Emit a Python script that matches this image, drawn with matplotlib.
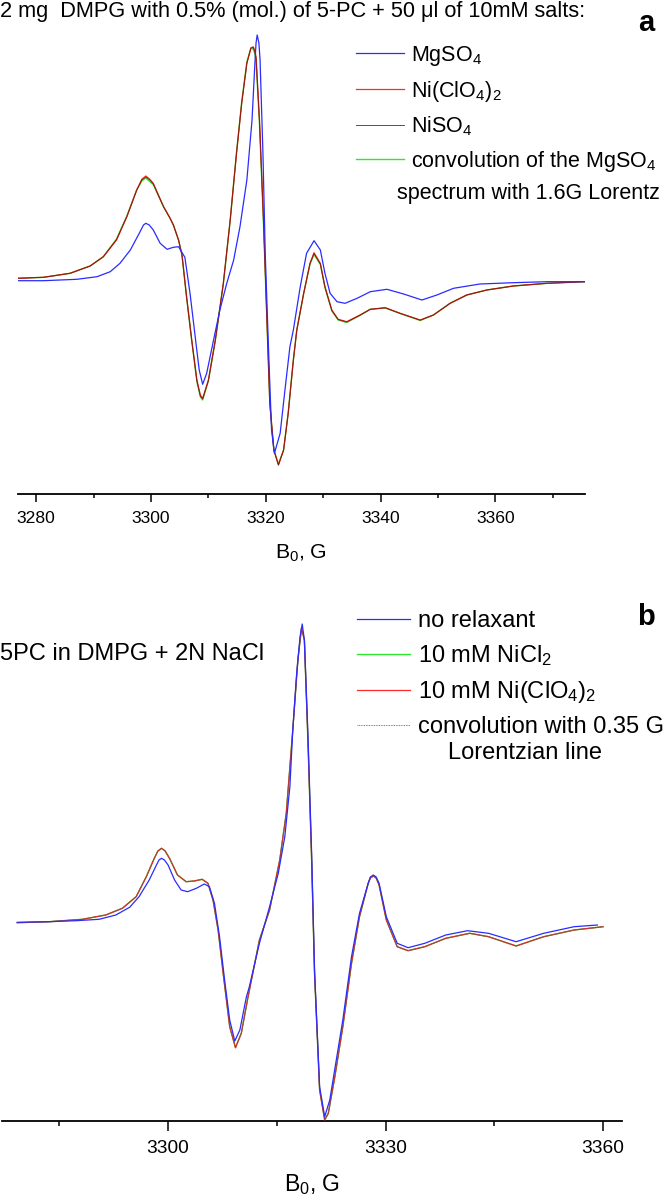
"""
EPR spectra of 5-PC in DMPG: effect of Ni2+ relaxants
"""
import numpy as np
import matplotlib
matplotlib.use("Agg")
import matplotlib.pyplot as plt
from matplotlib import rcParams
from matplotlib.ticker import MultipleLocator

rcParams["font.family"] = "Liberation Sans"
rcParams["mathtext.fontset"] = "custom"
rcParams["mathtext.rm"] = "Liberation Sans"
rcParams["mathtext.default"] = "regular"

# ---- panel a: field (G) and signal (arb. units) ----
field_mg = [3276.7, 3281.3, 3287.1, 3290.6, 3292.9, 3294.6, 3296.4, 3297.8, 3298.7, 3299.1,
            3299.7, 3300.4, 3301.6, 3302.8, 3303.9, 3304.8, 3305.9, 3306.8, 3307.7, 3308.4,
            3309.0, 3309.7, 3310.9, 3312.0, 3313.2, 3314.4, 3315.5, 3316.7, 3317.6, 3318.1,
            3318.3, 3318.5, 3318.8, 3319.0, 3319.5, 3319.9, 3320.5, 3321.0, 3321.5, 3322.5,
            3323.4, 3324.2, 3324.8, 3326.0, 3327.1, 3328.4, 3329.5, 3330.3, 3331.2, 3332.4,
            3333.8, 3335.9, 3338.2, 3341.1, 3344.0, 3347.2, 3349.8, 3352.7, 3357.3, 3363.1,
            3369.0, 3375.5]
mgso4 = [-0.7, -0.7, 0.7, 3.3, 8.3, 16.7, 30, 45, 55, 56.7,
         55, 50, 36.7, 30.7, 32.7, 33.3, 22.7, -13.3, -56.7, -90,
         -104.3, -93.3, -60, -30, -3.3, 20, 53.3, 100, 160, 216.7,
         237, 245, 237, 220, 126.7, 26.7, -73.3, -150, -173.3, -153.3,
         -106.7, -66.7, -50, -6.7, 26.7, 39.3, 30, 6.7, -13.3, -21.7,
         -23.3, -18.3, -11.7, -9.3, -14, -20, -15, -8.3, -4, -2.7,
         -1.7, -1.7]

field_ni = [3276.7, 3281.3, 3285.9, 3289.4, 3291.7, 3294.0, 3295.8, 3297.5, 3298.4, 3299.1,
            3299.8, 3300.4, 3302.2, 3303.3, 3303.9, 3304.8, 3305.4, 3306.2, 3307.1, 3308.0,
            3308.6, 3309.0, 3310.0, 3311.2, 3312.6, 3313.8, 3314.9, 3315.8, 3316.7, 3317.4,
            3317.8, 3318.05, 3318.3, 3318.9, 3319.6, 3320.2, 3320.7, 3321.4, 3322.2, 3323.1,
            3323.9, 3324.8, 3325.4, 3326.6, 3327.7, 3328.4, 3329.5, 3330.3, 3331.5, 3332.6,
            3334.1, 3336.4, 3338.2, 3340.8, 3343.4, 3346.9, 3349.2, 3352.1, 3355.0, 3358.5,
            3363.1, 3369.0, 3375.5]
ni_clo4 = [1.7, 2.7, 6.7, 14, 23.3, 40, 63.3, 90, 100.7, 104,
           100.7, 96.7, 73.3, 62, 55, 40, 25, -16.7, -60, -100,
           -115, -118.3, -100, -60, -3.3, 60, 126.7, 176.7, 216.7, 231.7,
           233.3, 230, 223.3, 160, 60, -40, -123.3, -170, -185, -170,
           -133.3, -80, -50, -13.3, 16.7, 27.3, 16.7, -6.7, -30, -39.3,
           -41.7, -35, -29.3, -27.7, -33.3, -40, -35, -23.3, -15, -10,
           -6, -3.3, -1.7]
niso4 = [1.7, 2.7, 6.7, 14, 23.3, 40.5, 63.5, 89.5, 100, 103,
         100, 96, 73, 62, 55, 40, 25, -17, -60.5, -101,
         -116, -119, -100.5, -60.5, -3.5, 60, 127, 177, 217, 232,
         232.5, 229, 222, 158, 58, -41, -123.5, -170, -185, -170,
         -133.3, -80, -50, -13.3, 16.5, 26.5, 16, -7, -30.5, -39.5,
         -42, -35.2, -29.3, -27.8, -33.4, -40.2, -35, -23.3, -15, -10,
         -6, -3.3, -1.7]
conv_mg = [1.7, 2.7, 6.7, 14, 23.3, 41, 64, 90, 99, 102,
           98.5, 95.5, 73, 62, 55, 40, 25, -17.5, -61, -102,
           -117, -120, -101, -61, -4, 60, 128, 178, 218, 232,
           231, 227, 220, 156, 56, -42, -124, -170, -184, -170,
           -133, -80, -50, -13.3, 16, 25.5, 15.5, -7.5, -31, -40,
           -42.5, -35.5, -29.3, -28, -33.5, -40.5, -35, -23.3, -15, -10,
           -6, -3.3, -1.7]

# ---- panel b ----
field_norel = [3279.2, 3283.6, 3287.3, 3290.5, 3292.8, 3294.7, 3296.0, 3297.4, 3298.4, 3298.75,
               3299.1, 3299.5, 3300.0, 3300.9, 3301.8, 3302.7, 3303.9, 3305.0, 3305.7, 3306.4,
               3307.1, 3307.8, 3308.5, 3309.2, 3309.9, 3310.8, 3311.2, 3312.6, 3314.0, 3315.2,
               3316.1, 3316.8, 3317.2, 3317.7, 3318.2, 3318.5, 3318.8, 3319.3, 3319.8, 3320.2,
               3320.9, 3321.6, 3322.3, 3323.2, 3324.1, 3325.3, 3326.4, 3327.6, 3327.9, 3328.3,
               3328.7, 3329.1, 3330.1, 3331.6, 3333.1, 3335.4, 3338.3, 3341.3, 3344.2, 3348.0,
               3351.8, 3356.0, 3359.2]
no_relax = [-0.3, 0.3, 1.3, 2.7, 7, 14.7, 25.3, 42, 57, 62,
            63.7, 62, 57, 42, 32, 30.3, 33.7, 38, 35.3, 18.7,
            -14.7, -58, -98, -119, -108, -75, -65, -21.3, 15.3, 48.7,
            85.3, 135.3, 192, 245.3, 285.3, 298, 282, 185.3, 68.7, -48,
            -164.7, -194.7, -178, -138, -98, -34.7, 8.7, 38.7, 45, 47,
            45, 38.7, 5.3, -21.3, -25.7, -21.3, -13, -8.7, -11.3, -19.7,
            -11.3, -4.7, -3]

field_nib = [3279.2, 3283.6, 3288.2, 3291.4, 3293.7, 3295.6, 3297.0, 3298.1, 3298.6, 3299.1,
             3299.6, 3300.2, 3301.3, 3302.5, 3303.6, 3304.7, 3305.5, 3306.2, 3306.9, 3307.6,
             3308.5, 3309.3, 3310.1, 3311.0, 3312.6, 3314.0, 3315.4, 3316.3, 3317.2, 3317.9,
             3318.4, 3318.8, 3319.3, 3319.8, 3320.2, 3320.9, 3321.6, 3322.1, 3323.0, 3324.1,
             3325.3, 3326.4, 3327.6, 3327.9, 3328.3, 3328.7, 3329.1, 3330.1, 3331.6, 3333.1,
             3335.4, 3338.3, 3341.6, 3344.2, 3348.0, 3351.8, 3356.0, 3360.0]
ni_clo4_b = [-0.7, 0.3, 2.7, 7, 13.7, 25.3, 45.3, 63.7, 71, 73.7,
             71, 63.7, 47, 40.3, 41, 42.7, 38.7, 22, -8, -51.3,
             -104.7, -125.7, -111.3, -76, -18, 12, 62, 108.7, 192, 262,
             293.7, 282, 178.7, 62, -51.3, -168, -198, -191.3, -154.7, -104.7,
             -41.3, 5.3, 38.7, 44, 46, 44, 37, 2, -24.7, -28.7,
             -24.7, -16.3, -11.3, -14.7, -24, -14.7, -8, -4.7]
# NiCl2 and the 0.35 G convolution lie on top of the Ni(ClO4)2 trace
nicl2_b = list(ni_clo4_b)
conv_b = list(ni_clo4_b)

W, H = 666, 1204
fig = plt.figure(figsize=(W / 100, H / 100), dpi=100)


def axes_px(left, right, top, bottom):
    return fig.add_axes([left / W, 1 - bottom / H, (right - left) / W, (bottom - top) / H])


def style_axis(ax, major, minor, tl, fs):
    for s in ["left", "top", "right"]:
        ax.spines[s].set_visible(False)
    ax.spines["bottom"].set_linewidth(1.3)
    ax.set_yticks([])
    ax.xaxis.set_major_locator(MultipleLocator(major))
    ax.xaxis.set_minor_locator(MultipleLocator(minor))
    ax.tick_params(axis="x", which="major", direction="out", length=tl, width=1.1,
                   pad=6.5, labelsize=fs)
    ax.tick_params(axis="x", which="minor", direction="out", length=tl / 2, width=1.1)
    ax.patch.set_alpha(0)


blue, red, brown, green = "#2b2bff", "#ff2a2a", "#7a1a10", "#2ee82e"

# panel a
ax = axes_px(17.8, 585, 30, 494)
ax.plot(field_mg, mgso4, color=blue, lw=0.9, label="MgSO$_4$", zorder=4)
ax.plot(field_ni, conv_mg, color=green, lw=1.0, zorder=2)
ax.plot(field_ni, ni_clo4, color=red, lw=0.9, label="Ni(ClO$_4$)$_2$", zorder=3)
ax.plot(field_ni, niso4, color=brown, lw=0.6, label="NiSO$_4$", zorder=3.5)
ax.plot([], [], color=green, lw=1.0, label="convolution of the MgSO$_4$")
ax.set_xlim(3276.8, 3375.6)
ax.set_ylim(-214, 250)
style_axis(ax, 20, 10, 5.8, 12.6)
ax.set_xlabel("B$_0$, G", fontsize=15.3, labelpad=12)
ax.legend(loc="upper left", bbox_to_anchor=(356 / W, 1 - 44 / H),
          bbox_transform=fig.transFigure, frameon=False, borderpad=0,
          borderaxespad=0, handlelength=2.23, handletextpad=0.33,
          labelspacing=0.5, fontsize=15.5)
fig.text(397 / W, 1 - 199 / H, "spectrum with 1.6G Lorentz", fontsize=15.5, va="baseline")
fig.text(0, 1 - 17 / H, "2 mg  DMPG with 0.5% (mol.) of 5-PC + 50 \u03bcl of 10mM salts:",
         fontsize=15.7, va="baseline")
fig.text(646 / W, 1 - 23 / H, "a", fontsize=21, fontweight="bold", ha="center", va="center")

# panel b
ax = axes_px(2, 622, 610, 1121)
ax.plot(field_nib, nicl2_b, color=green, lw=1.0, label="10 mM NiCl$_2$", zorder=2)
ax.plot(field_nib, ni_clo4_b, color=red, lw=0.9, label="10 mM Ni(ClO$_4$)$_2$", zorder=3)
ax.plot(field_nib, conv_b, color="#555555", lw=0.6, ls=(0, (1, 1)),
        label="convolution with 0.35 G", zorder=3.5)
ax.plot(field_norel, no_relax, color=blue, lw=0.9, label="no relaxant", zorder=4)
ax.set_xlim(3277.1, 3362.6)
ax.set_ylim(-199, 312)
style_axis(ax, 30, 15, 7, 13.8)
ax.set_xlabel("B$_0$, G", fontsize=16.6, labelpad=11)
h, lab = ax.get_legend_handles_labels()
order = [3, 0, 1, 2]
ax.legend([h[i] for i in order], [lab[i] for i in order], loc="upper left",
          bbox_to_anchor=(357 / W, 1 - 610 / H), bbox_transform=fig.transFigure,
          frameon=False, borderpad=0, borderaxespad=0, handlelength=2.25,
          handletextpad=0.34, labelspacing=0.47, fontsize=17)
fig.text(448 / W, 1 - 759 / H, "Lorentzian line", fontsize=17, va="baseline")
fig.text(0, 1 - 659.5 / H, "5PC in DMPG + 2N NaCl", fontsize=17, va="baseline")
fig.text(646 / W, 1 - 617 / H, "b", fontsize=21, fontweight="bold", ha="center", va="center")

plt.savefig("out.png", dpi=100)
